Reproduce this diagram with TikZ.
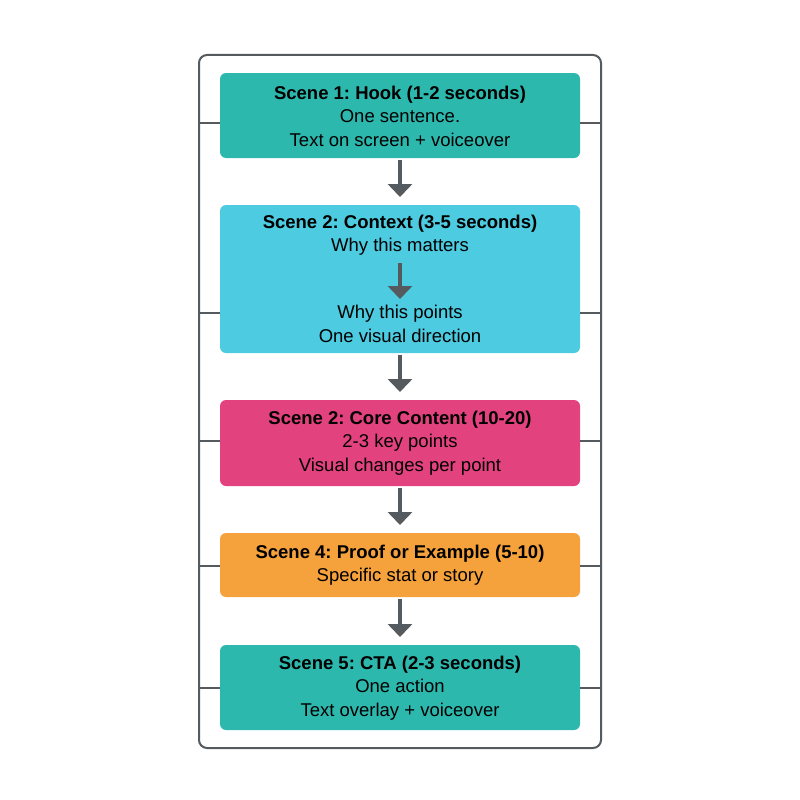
\documentclass[tikz,border=0pt]{standalone}
\usepackage{fontspec}
\setmainfont{Liberation Sans}
\usetikzlibrary{arrows.meta}
\definecolor{teal1}{HTML}{2DB8AE}
\definecolor{cyan1}{HTML}{4DCBE0}
\definecolor{pink1}{HTML}{E2427E}
\definecolor{orange1}{HTML}{F5A13C}
\definecolor{grayl}{HTML}{555A5E}
\frenchspacing
\begin{document}
\begin{tikzpicture}[x=1pt,y=-1pt,
  box/.style={rounded corners=6pt,minimum width=360pt,align=center,font=\fontsize{18.5}{23.5}\selectfont\frenchspacing,inner sep=0pt},
  arr/.style={draw=grayl,line width=3.5pt,-{Triangle[length=13pt,width=24pt]}},
  tick/.style={draw=grayl,line width=1.5pt}]
\useasboundingbox (0,0) rectangle (800,800);
\draw[grayl,line width=2pt,rounded corners=8pt] (199,55) rectangle (601,748);
\fill[teal1,rounded corners=6pt] (220,73) rectangle (580,158);
\node[box] (b1) at (400,116) {\textbf{Scene 1: Hook (1-2 seconds)}\\One sentence.\\Text on screen + voiceover};
\fill[cyan1,rounded corners=6pt] (220,205) rectangle (580,353);
\node[box] (b2a) at (400,235) {\textbf{Scene 2: Context (3-5 seconds)}\\Why this matters};
\node[box] (b2b) at (400,324) {Why this points\\One visual direction};
\fill[pink1,rounded corners=6pt] (220,400) rectangle (580,486);
\node[box] (b3) at (400,443) {\textbf{Scene 2: Core Content (10-20)}\\2-3 key points\\Visual changes per point};
\fill[orange1,rounded corners=6pt] (220,533) rectangle (580,597);
\node[box] (b4) at (400,565) {\textbf{Scene 4: Proof or Example (5-10)}\\Specific stat or story};
\fill[teal1,rounded corners=6pt] (220,645) rectangle (580,730);
\node[box] (b5) at (400,688) {\textbf{Scene 5: CTA (2-3 seconds)}\\One action\\Text overlay + voiceover};
\coordinate (a1) at (400,160); \coordinate (a1e) at (400,197);
\coordinate (a2) at (400,263); \coordinate (a2e) at (400,299);
\coordinate (a3) at (400,355); \coordinate (a3e) at (400,392);
\coordinate (a4) at (400,488); \coordinate (a4e) at (400,525);
\coordinate (a5) at (400,599); \coordinate (a5e) at (400,637);
\foreach \s/\e in {a1/a1e,a2/a2e,a3/a3e,a4/a4e,a5/a5e} \draw[arr] (\s) -- (\e);
\foreach \y in {123,313,441,566,688}{
  \draw[tick] (199,\y) -- (220,\y);
  \draw[tick] (580,\y) -- (601,\y);}
\end{tikzpicture}
\end{document}
